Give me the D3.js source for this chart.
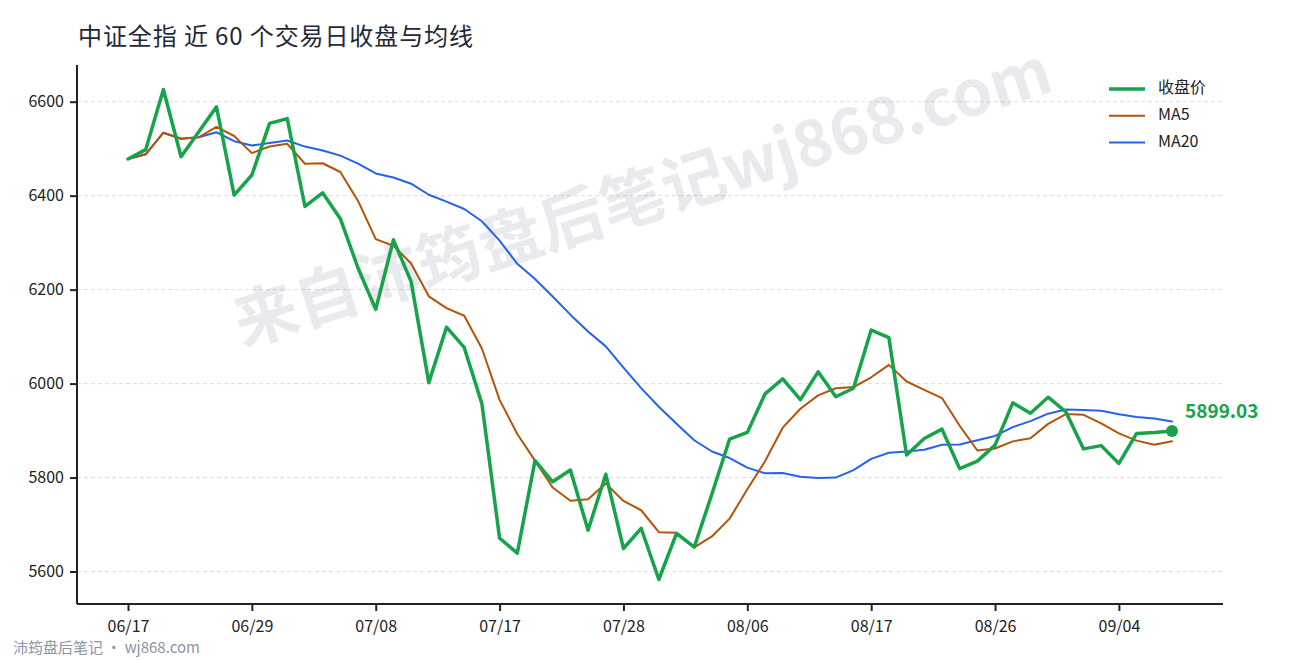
<!DOCTYPE html>
<html><head><meta charset="utf-8">
<script src="https://cdn.jsdelivr.net/npm/d3@7/dist/d3.min.js"></script>
<style>
body{margin:0;background:#fff}
svg{display:block}
text{font-family:"Noto Sans CJK SC","Noto Sans",sans-serif}
</style>
</head><body>
<svg id="chart" width="1290" height="660"></svg>
<script>
const titleText = "中证全指 近 60 个交易日收盘与均线";
const footerText = "沛筠盘后笔记 · wj868.com";
const watermarkText = "来自沛筠盘后笔记wj868.com";
const seriesNames = ["收盘价", "MA5", "MA20"];

const closeValues = [
  6478, 6498, 6626, 6483, 6536, 6589, 6401, 6444, 6554, 6564,
  6377, 6406, 6351, 6246, 6158, 6306, 6217, 6002, 6120, 6077,
  5957, 5671, 5639, 5836, 5791, 5816, 5688, 5807, 5649, 5692,
  5583, 5681, 5652, 5765, 5882, 5896, 5978, 6010, 5966, 6025,
  5972, 5990, 6114, 6098, 5848, 5883, 5903, 5819, 5835, 5869,
  5959, 5937, 5971, 5940, 5861, 5868, 5830, 5894, 5896, 5899.03
];
const ma5Values = [
  6478, 6488, 6534, 6521.3, 6524.2, 6546.4, 6527, 6490.6, 6504.8, 6510.4,
  6468, 6469, 6450.4, 6388.8, 6307.6, 6293.4, 6255.6, 6185.8, 6160.6, 6144.4,
  6074.6, 5965.4, 5892.8, 5836, 5778.8, 5750.6, 5754, 5787.6, 5750.2, 5730.4,
  5683.8, 5682.4, 5651.4, 5674.6, 5712.6, 5775.2, 5834.6, 5906.2, 5946.4, 5975,
  5990.2, 5992.6, 6013.4, 6039.8, 6004.4, 5986.6, 5969.2, 5910.2, 5857.6, 5861.8,
  5877, 5883.8, 5914.2, 5935.2, 5933.6, 5915.4, 5894, 5878.6, 5869.8, 5877.4
];
const ma20Values = [
  6478, 6488, 6534, 6521.3, 6524.2, 6535, 6515.9, 6506.9, 6512.1, 6517.3,
  6504.5, 6496.3, 6485.2, 6468.1, 6447.4, 6438.6, 6425.5, 6402, 6387.2, 6371.7,
  6345.6, 6304.3, 6254.9, 6222.6, 6185.3, 6146.7, 6111, 6079.2, 6033.9, 5990.3,
  5950.6, 5914.4, 5879.4, 5855.4, 5841.6, 5821.1, 5809.1, 5809.5, 5801.8, 5799.2,
  5800, 5815.9, 5839.7, 5852.8, 5855.6, 5859, 5869.7, 5870.3, 5879.6, 5888.5,
  5907.3, 5920.1, 5936, 5944.8, 5943.7, 5942.3, 5934.9, 5929.1, 5925.6, 5919.3
];
const xTickIndex = [0, 7, 14, 21, 28, 35, 42, 49, 56];
const xTickLabels = ["06/17", "06/29", "07/08", "07/17", "07/28", "08/06", "08/17", "08/26", "09/04"];
const yTickValues = [5600, 5800, 6000, 6200, 6400, 6600];

const W = 1290, H = 660;
const margin = {left: 77, right: 67, top: 65, bottom: 56};
const colors = ["#16a34a", "#b45309", "#2563eb"];
const widths = [3.5, 2, 2];
const FONT = '"Noto Sans CJK SC","Noto Sans",sans-serif';

const svg = d3.select("#chart");
const plotL = margin.left, plotR = W - margin.right, plotT = margin.top, plotB = H - margin.bottom;

const lo = d3.min(closeValues), hi = d3.max(closeValues), pad = (hi - lo) * 0.05;
const y = d3.scaleLinear().domain([lo - pad, hi + pad]).range([plotB, plotT]);
const x = d3.scaleLinear().domain([0, closeValues.length - 1]).range([plotL + 51, plotR - 51]);

// title
svg.append("text").attr("x", 78).attr("y", 45).attr("font-size", 24)
  .attr("fill", "#1f2937").attr("letter-spacing", 0.9).text(titleText);

// grid
svg.append("g").selectAll("line").data(yTickValues).join("line")
  .attr("x1", plotL).attr("x2", plotR)
  .attr("y1", d => y(d)).attr("y2", d => y(d))
  .attr("stroke", "#dcdcdc").attr("stroke-width", 1).attr("stroke-dasharray", "4,3");

// watermark
svg.append("text")
  .attr("transform", "translate(644,202) rotate(-17.5)")
  .attr("text-anchor", "middle").attr("dominant-baseline", "middle")
  .attr("font-size", 64).attr("font-weight", "bold")
  .attr("fill", "#64748b").attr("fill-opacity", 0.15)
  .text(watermarkText);

// axes
const yAxis = svg.append("g").attr("transform", `translate(${plotL},0)`)
  .call(d3.axisLeft(y).tickValues(yTickValues).tickFormat(d3.format("d")).tickSize(7).tickPadding(6).tickSizeOuter(0));
const xAxis = svg.append("g").attr("transform", `translate(0,${plotB})`)
  .call(d3.axisBottom(x).tickValues(xTickIndex).tickFormat((d, i) => xTickLabels[i]).tickSize(7).tickPadding(10).tickSizeOuter(0));
[yAxis, xAxis].forEach(g => {
  g.select(".domain").attr("stroke", "#222").attr("stroke-width", 2);
  g.selectAll(".tick line").attr("stroke", "#222").attr("stroke-width", 2);
  g.selectAll(".tick text").attr("font-size", 16).attr("fill", "#222").attr("font-family", FONT);
});
yAxis.select(".domain").attr("d", `M0,${plotT}V${plotB}`);
xAxis.select(".domain").attr("d", `M${plotL},0H${plotR}`);

// lines
const line = d3.line().x((d, i) => x(i)).y(d => y(d));
const allSeries = [closeValues, ma5Values, ma20Values];
[2, 1, 0].forEach(k => {
  svg.append("path").datum(allSeries[k]).attr("d", line)
    .attr("fill", "none").attr("stroke", colors[k]).attr("stroke-width", widths[k])
    .attr("stroke-linejoin", "round").attr("stroke-linecap", "round");
});

// last point
const li = closeValues.length - 1;
svg.append("circle").attr("cx", x(li)).attr("cy", y(closeValues[li])).attr("r", 6).attr("fill", colors[0]);
svg.append("text").attr("x", x(li) + 13).attr("y", y(closeValues[li]) - 13)
  .attr("font-size", 19).attr("font-weight", "bold").attr("fill", colors[0])
  .text(closeValues[li].toFixed(2));

// legend
const lg = svg.append("g").attr("transform", "translate(1109,89)");
seriesNames.forEach((n, i) => {
  const row = lg.append("g").attr("transform", `translate(0,${i * 26.7})`);
  row.append("line").attr("x1", 0).attr("x2", 36).attr("y1", 0).attr("y2", 0)
    .attr("stroke", colors[i]).attr("stroke-width", widths[i]);
  row.append("text").attr("x", 49).attr("y", 0).attr("dominant-baseline", "middle")
    .attr("font-size", 16).attr("fill", "#222").text(n);
});

// footer
svg.append("text").attr("x", 13).attr("y", 653).attr("font-size", 15)
  .attr("fill", "#8a94a6").text(footerText);
</script>
</body></html>
